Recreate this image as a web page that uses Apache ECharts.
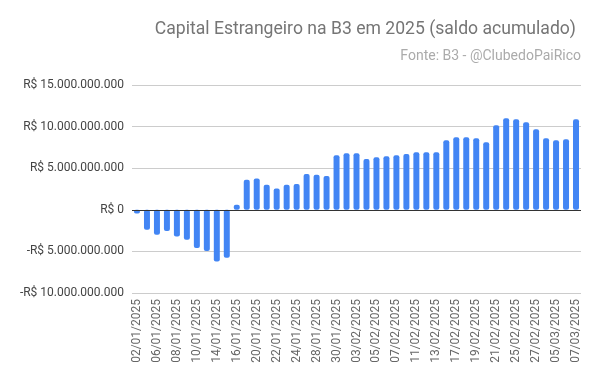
<!DOCTYPE html>
<html><head><meta charset="utf-8">
<script src="https://cdn.jsdelivr.net/npm/echarts@6/dist/echarts.min.js"></script>
<style>html,body{margin:0;padding:0;background:#fff}#c{width:600px;height:385px}</style>
</head><body><div id="c"></div>
<script>
const categories = ["02/01/2025","03/01/2025","06/01/2025","07/01/2025","08/01/2025","09/01/2025","10/01/2025","13/01/2025","14/01/2025","15/01/2025","16/01/2025","17/01/2025","20/01/2025","21/01/2025","22/01/2025","23/01/2025","24/01/2025","27/01/2025","28/01/2025","29/01/2025","30/01/2025","31/01/2025","03/02/2025","04/02/2025","05/02/2025","06/02/2025","07/02/2025","10/02/2025","11/02/2025","12/02/2025","13/02/2025","14/02/2025","17/02/2025","18/02/2025","19/02/2025","20/02/2025","21/02/2025","24/02/2025","25/02/2025","26/02/2025","27/02/2025","28/02/2025","05/03/2025","06/03/2025","07/03/2025"];
const saldoBilhoes = [-0.44,-2.4,-3.0,-2.55,-3.2,-3.6,-4.6,-4.95,-6.2,-5.75,0.6,3.6,3.75,3.0,2.55,3.0,3.1,4.3,4.2,4.05,6.57,6.8,6.8,6.1,6.33,6.45,6.57,6.7,6.93,6.93,6.93,8.37,8.73,8.73,8.6,8.13,10.16,11.0,10.88,10.52,9.68,8.6,8.37,8.49,10.88];
const yTicks = [-10000000000,-5000000000,0,5000000000,10000000000,15000000000];
const values = saldoBilhoes.map(v => Math.round(v * 1e9));

function fmt(v){
  const s = Math.abs(v).toString().replace(/\B(?=(\d{3})+(?!\d))/g, '.');
  return (v < 0 ? '-' : '') + 'R$ ' + s;
}

const chart = echarts.init(document.getElementById('c'), null, {renderer:'canvas'});
chart.setOption({
  animation:false,
  backgroundColor:'#fff',
  textStyle:{fontFamily:'Roboto'},
  title:[
    {text:'Capital Estrangeiro na B3 em 2025 (saldo acumulado)', right:19, top:16,
     textStyle:{fontFamily:'Roboto', fontSize:17.6, fontWeight:'normal', color:'#757575'}},
    {text:'Fonte: B3 - @ClubedoPaiRico', right:14, top:44,
     textStyle:{fontFamily:'Roboto', fontSize:14, fontWeight:'normal', color:'#ababab'}}
  ],
  grid:{left:132, right:19, top:85, bottom:92},
  xAxis:{
    type:'category', data:categories,
    axisLine:{show:false}, axisTick:{show:false},
    axisLabel:{rotate:90, interval:1, color:'#666', fontSize:12, fontFamily:'Roboto', margin:6}
  },
  yAxis:{
    type:'value', min:yTicks[0], max:yTicks[yTicks.length-1], interval:5000000000,
    axisLine:{show:false}, axisTick:{show:false},
    splitLine:{lineStyle:{color:'#cccccc', width:1}},
    axisLabel:{color:'#444', fontSize:12, fontFamily:'Roboto', margin:8, formatter:fmt}
  },
  series:[{
    type:'bar', data:values, barWidth:'60%',
    itemStyle:{color:'#4285f4', borderRadius:2},
    markLine:{silent:true, symbol:'none', label:{show:false},
      lineStyle:{color:'#333', width:1, type:'solid'}, data:[{yAxis:0}]}
  }]
});
</script></body></html>
